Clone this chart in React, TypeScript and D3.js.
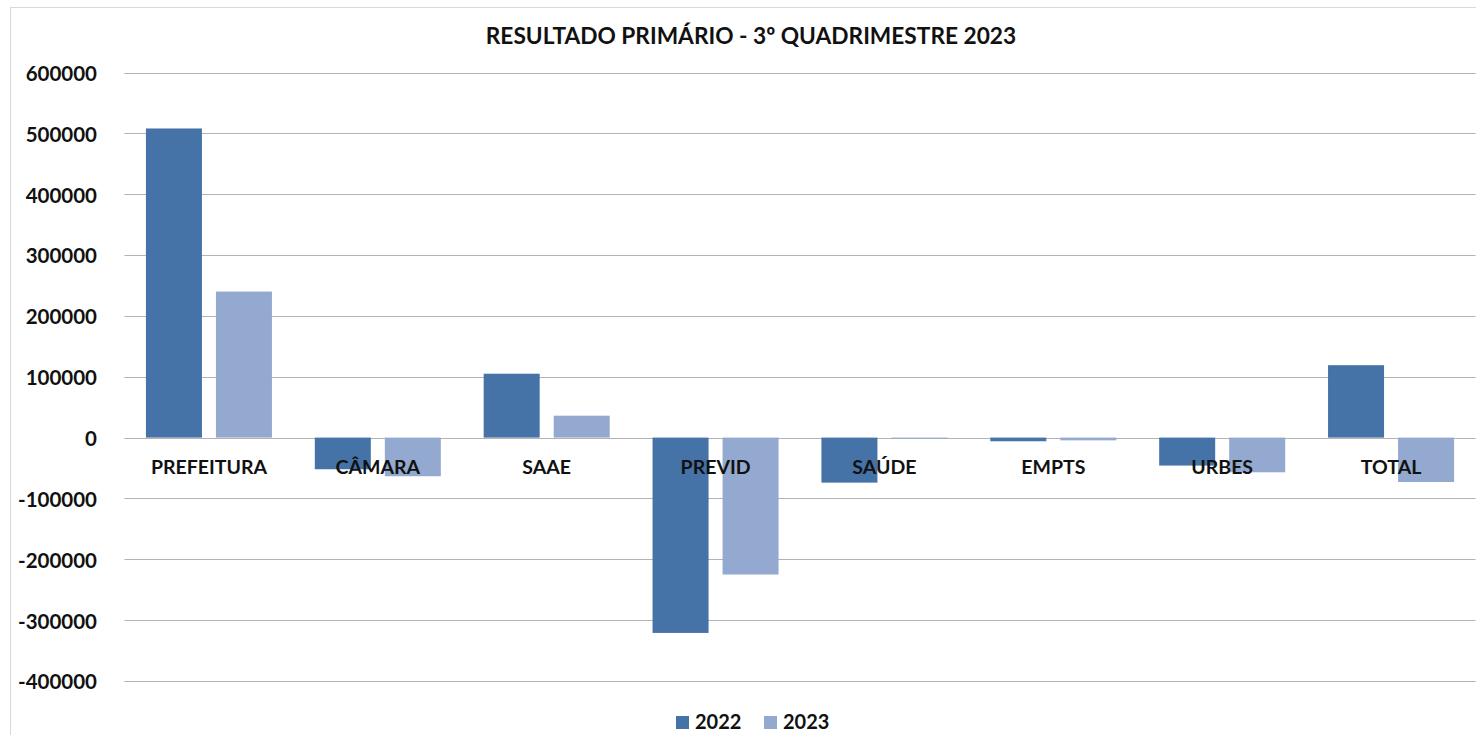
import React, { useEffect, useRef } from "react";
import * as d3 from "d3";

const categories = ["PREFEITURA", "CÂMARA", "SAAE", "PREVID", "SAÚDE", "EMPTS", "URBES", "TOTAL"];
const seriesNames = ["2022", "2023"];
const values2022 = [508000, -52000, 105000, -321000, -74000, -6000, -46000, 119000];
const values2023 = [240000, -63500, 36000, -225000, -1500, -4500, -57000, -73000];
const yTicks = [600000, 500000, 400000, 300000, 200000, 100000, 0, -100000, -200000, -300000, -400000];

const colors: Record<string, string> = { "2022": "#4572A7", "2023": "#93A9CF" };
const FONT = "Lato, 'Open Sans', sans-serif";

export default function App() {
  const svgRef = useRef<SVGSVGElement | null>(null);

  useEffect(() => {
    document.body.style.margin = "0";
    if (!svgRef.current) return;

    const width = 1476;
    const height = 735;
    const plot = { left: 124.5, right: 1475.5, top: 73.5, bottom: 682 };

    const svg = d3.select(svgRef.current);
    svg.selectAll("*").remove();
    svg.attr("width", width).attr("height", height).attr("viewBox", `0 0 ${width} ${height}`);

    // chart frame
    svg
      .append("rect")
      .attr("x", 10.5)
      .attr("y", 7.5)
      .attr("width", width)
      .attr("height", height)
      .attr("fill", "#fff")
      .attr("stroke", "#d9d9d9");

    const x = d3.scaleBand<string>().domain(categories).range([plot.left, plot.right]);
    const xInner = d3
      .scaleBand<string>()
      .domain(seriesNames)
      .range([0, x.bandwidth()])
      .paddingInner(0.2)
      .paddingOuter(0.306);

    const y = d3.scaleLinear().domain([-400000, 600000]).range([plot.bottom, plot.top]);

    // gridlines
    svg
      .append("g")
      .selectAll("line")
      .data(yTicks)
      .join("line")
      .attr("x1", plot.left)
      .attr("x2", plot.right)
      .attr("y1", (d) => Math.round(y(d)) - 0.5)
      .attr("y2", (d) => Math.round(y(d)) - 0.5)
      .attr("stroke", "#b3b3b3")
      .attr("stroke-width", 1);

    // y labels
    svg
      .append("g")
      .selectAll("text")
      .data(yTicks)
      .join("text")
      .attr("x", 97)
      .attr("y", (d) => y(d))
      .attr("dy", "0.36em")
      .attr("text-anchor", "end")
      .attr("font-family", FONT)
      .attr("font-weight", "bold")
      .attr("font-size", "20.5px")
      .attr("fill", "#111")
      .text((d) => String(d));

    const rows = categories.map((c, i) => ({ cat: c, vals: [values2022[i], values2023[i]] }));

    // bars
    const groups = svg
      .append("g")
      .selectAll("g")
      .data(rows)
      .join("g")
      .attr("transform", (d) => `translate(${x(d.cat)},0)`);

    groups
      .selectAll("rect")
      .data((d) => d.vals.map((v, j) => ({ key: seriesNames[j], v })))
      .join("rect")
      .attr("x", (d) => xInner(d.key) as number)
      .attr("width", xInner.bandwidth())
      .attr("y", (d) => Math.min(y(d.v), y(0)) - 1)
      .attr("height", (d) => Math.max(1, Math.abs(y(d.v) - y(0))))
      .attr("fill", (d) => colors[d.key]);

    // category labels
    svg
      .append("g")
      .selectAll("text")
      .data(categories)
      .join("text")
      .attr("x", (d) => (x(d) as number) + x.bandwidth() / 2)
      .attr("y", 474)
      .attr("text-anchor", "middle")
      .attr("font-family", FONT)
      .attr("font-weight", "bold")
      .attr("font-size", "19.5px")
      .attr("fill", "#111")
      .text((d) => d);

    // title
    svg
      .append("text")
      .attr("x", 751)
      .attr("y", 44)
      .attr("text-anchor", "middle")
      .attr("font-family", FONT)
      .attr("font-weight", "bold")
      .attr("font-size", "22.7px")
      .attr("fill", "#111")
      .text("RESULTADO PRIMÁRIO - 3º QUADRIMESTRE 2023");

    // legend
    const legend = svg
      .append("g")
      .selectAll("g")
      .data(seriesNames)
      .join("g")
      .attr("transform", (d, i) => `translate(${676 + i * 88},0)`);

    legend
      .append("rect")
      .attr("x", 0)
      .attr("y", 716)
      .attr("width", 13)
      .attr("height", 13)
      .attr("fill", (d) => colors[d]);

    legend
      .append("text")
      .attr("x", 19)
      .attr("y", 729)
      .attr("font-family", FONT)
      .attr("font-weight", "bold")
      .attr("font-size", "20px")
      .attr("fill", "#111")
      .text((d) => d);
  }, []);

  return <svg ref={svgRef} style={{ display: "block" }} />;
}
